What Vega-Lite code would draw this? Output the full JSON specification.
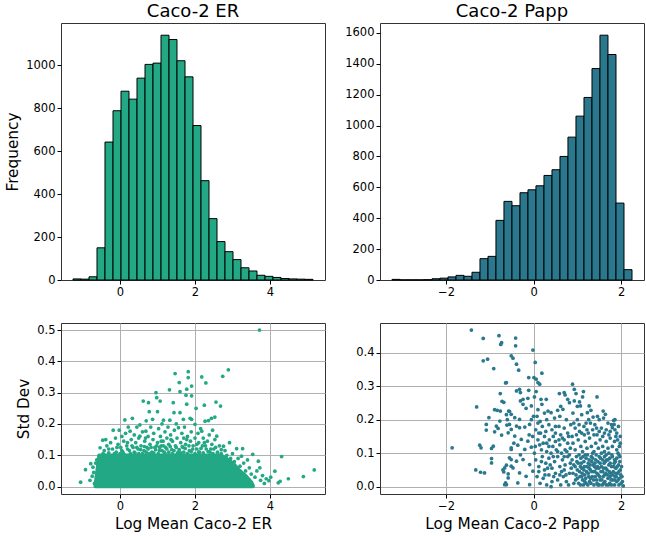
{
"$schema": "https://vega.github.io/schema/vega-lite/v6.json",
"padding": {"left": 5, "top": 2, "right": 0, "bottom": 0},
"config": {
  "font": "DejaVu Sans",
  "view": {"stroke": "#333333", "strokeWidth": 1},
  "axis": {"domain": false, "ticks": true, "tickColor": "#000000", "tickSize": 4, "tickWidth": 1,
           "labelFontSize": 11.5, "labelColor": "#000000", "labelPadding": 2, "labelFlush": false, "labelOverlap": false,
           "titleFontSize": 15.3, "titleFontWeight": "normal", "titleColor": "#000000", "titlePadding": 5,
           "gridColor": "#b0b0b0", "gridWidth": 1, "gridOpacity": 1},
  "title": {"fontSize": 18, "fontWeight": "normal", "color": "#000000", "offset": 2}
},
"datasets": {
  "erHist": [
    {"lo": -1.253, "hi": -1.040, "count": 5},
    {"lo": -1.040, "hi": -0.826, "count": 4},
    {"lo": -0.826, "hi": -0.613, "count": 15},
    {"lo": -0.613, "hi": -0.400, "count": 150},
    {"lo": -0.400, "hi": -0.186, "count": 643},
    {"lo": -0.186, "hi": 0.027, "count": 789},
    {"lo": 0.027, "hi": 0.240, "count": 880},
    {"lo": 0.240, "hi": 0.454, "count": 843},
    {"lo": 0.454, "hi": 0.667, "count": 941},
    {"lo": 0.667, "hi": 0.880, "count": 1005},
    {"lo": 0.880, "hi": 1.094, "count": 1011},
    {"lo": 1.094, "hi": 1.307, "count": 1141},
    {"lo": 1.307, "hi": 1.520, "count": 1121},
    {"lo": 1.520, "hi": 1.734, "count": 1022},
    {"lo": 1.734, "hi": 1.947, "count": 947},
    {"lo": 1.947, "hi": 2.160, "count": 720},
    {"lo": 2.160, "hi": 2.374, "count": 463},
    {"lo": 2.374, "hi": 2.587, "count": 286},
    {"lo": 2.587, "hi": 2.800, "count": 179},
    {"lo": 2.800, "hi": 3.014, "count": 132},
    {"lo": 3.014, "hi": 3.227, "count": 95},
    {"lo": 3.227, "hi": 3.440, "count": 57},
    {"lo": 3.440, "hi": 3.654, "count": 42},
    {"lo": 3.654, "hi": 3.867, "count": 22},
    {"lo": 3.867, "hi": 4.080, "count": 17},
    {"lo": 4.080, "hi": 4.294, "count": 12},
    {"lo": 4.294, "hi": 4.507, "count": 7},
    {"lo": 4.507, "hi": 4.720, "count": 5},
    {"lo": 4.720, "hi": 4.934, "count": 4},
    {"lo": 4.934, "hi": 5.147, "count": 3}
  ],
  "pappHist": [
    {"lo": -3.234, "hi": -3.051, "count": 4},
    {"lo": -3.051, "hi": -2.869, "count": 1},
    {"lo": -2.869, "hi": -2.686, "count": 1},
    {"lo": -2.686, "hi": -2.503, "count": 1},
    {"lo": -2.503, "hi": -2.320, "count": 2},
    {"lo": -2.320, "hi": -2.138, "count": 8},
    {"lo": -2.138, "hi": -1.955, "count": 12},
    {"lo": -1.955, "hi": -1.772, "count": 20},
    {"lo": -1.772, "hi": -1.589, "count": 30},
    {"lo": -1.589, "hi": -1.407, "count": 24},
    {"lo": -1.407, "hi": -1.224, "count": 50},
    {"lo": -1.224, "hi": -1.041, "count": 138},
    {"lo": -1.041, "hi": -0.859, "count": 153},
    {"lo": -0.859, "hi": -0.676, "count": 386},
    {"lo": -0.676, "hi": -0.493, "count": 509},
    {"lo": -0.493, "hi": -0.310, "count": 481},
    {"lo": -0.310, "hi": -0.128, "count": 565},
    {"lo": -0.128, "hi": 0.055, "count": 584},
    {"lo": 0.055, "hi": 0.238, "count": 610},
    {"lo": 0.238, "hi": 0.421, "count": 677},
    {"lo": 0.421, "hi": 0.604, "count": 714},
    {"lo": 0.604, "hi": 0.786, "count": 800},
    {"lo": 0.786, "hi": 0.969, "count": 925},
    {"lo": 0.969, "hi": 1.152, "count": 1061},
    {"lo": 1.152, "hi": 1.335, "count": 1182},
    {"lo": 1.335, "hi": 1.517, "count": 1369},
    {"lo": 1.517, "hi": 1.700, "count": 1585},
    {"lo": 1.700, "hi": 1.883, "count": 1460},
    {"lo": 1.883, "hi": 2.066, "count": 498},
    {"lo": 2.066, "hi": 2.249, "count": 67}
  ],
  "erCore": [
    {"x": -0.66, "y": 0.004}, {"x": -0.6, "y": 0.06}, {"x": -0.56, "y": 0.1}, {"x": 2.7, "y": 0.1},
    {"x": 2.9, "y": 0.085}, {"x": 3.05, "y": 0.07}, {"x": 3.2, "y": 0.05}, {"x": 3.35, "y": 0.035},
    {"x": 3.5, "y": 0.015}, {"x": 3.55, "y": 0.003}
  ],
  "erPts": [
    {"x":-1.05,"y":0.014},{"x":-0.92,"y":0.054},{"x":-0.78,"y":0.073},{"x":-0.74,"y":0.033},{"x":-0.8,"y":0.02},{"x":-0.7,"y":0.045},{"x":-0.68,"y":0.01},{"x":-0.72,"y":0.062},{"x":-0.65,"y":0.075},{"x":-0.62,"y":0.085},
    {"x":-0.53,"y":0.124},{"x":-0.46,"y":0.148},{"x":-0.38,"y":0.15},{"x":-0.42,"y":0.115},{"x":-0.35,"y":0.13},{"x":-0.3,"y":0.108},{"x":-0.25,"y":0.14},{"x":-0.2,"y":0.12},{"x":-0.18,"y":0.18},{"x":-0.12,"y":0.155},{"x":-0.1,"y":0.11},{"x":-0.05,"y":0.135},{"x":-0.02,"y":0.18},{"x":0.02,"y":0.125},{"x":0.05,"y":0.16},{"x":0.08,"y":0.11},{"x":0.1,"y":0.145},{"x":0.13,"y":0.213},{"x":0.15,"y":0.17},{"x":0.18,"y":0.13},{"x":0.22,"y":0.19},{"x":0.25,"y":0.115},{"x":0.27,"y":0.177},{"x":0.3,"y":0.15},{"x":0.33,"y":0.218},{"x":0.35,"y":0.125},{"x":0.38,"y":0.165},{"x":0.4,"y":0.108},{"x":0.42,"y":0.14},{"x":0.45,"y":0.19},{"x":0.48,"y":0.12},{"x":0.5,"y":0.155},{"x":0.53,"y":0.197},{"x":0.53,"y":0.161},{"x":0.56,"y":0.13},{"x":0.6,"y":0.175},{"x":0.62,"y":0.273},{"x":0.64,"y":0.115},{"x":0.66,"y":0.145},{"x":0.69,"y":0.177},{"x":0.7,"y":0.21},{"x":0.72,"y":0.125},{"x":0.75,"y":0.16},{"x":0.76,"y":0.268},{"x":0.78,"y":0.239},{"x":0.8,"y":0.135},{"x":0.82,"y":0.19},{"x":0.85,"y":0.11},{"x":0.87,"y":0.215},{"x":0.88,"y":0.15},{"x":0.9,"y":0.17},{"x":0.93,"y":0.125},{"x":0.96,"y":0.3},{"x":0.98,"y":0.284},{"x":1.0,"y":0.239},{"x":1.0,"y":0.14},{"x":1.03,"y":0.185},{"x":1.05,"y":0.115},{"x":1.07,"y":0.273},{"x":1.08,"y":0.16},{"x":1.1,"y":0.13},{"x":1.12,"y":0.2},{"x":1.15,"y":0.145},{"x":1.16,"y":0.212},{"x":1.18,"y":0.11},{"x":1.2,"y":0.175},{"x":1.22,"y":0.125},{"x":1.25,"y":0.155},{"x":1.28,"y":0.19},{"x":1.3,"y":0.135},{"x":1.32,"y":0.309},{"x":1.33,"y":0.212},{"x":1.35,"y":0.165},{"x":1.38,"y":0.118},{"x":1.4,"y":0.145},{"x":1.42,"y":0.268},{"x":1.44,"y":0.236},{"x":1.45,"y":0.18},{"x":1.47,"y":0.361},{"x":1.48,"y":0.13},{"x":1.5,"y":0.2},{"x":1.52,"y":0.155},{"x":1.55,"y":0.11},{"x":1.56,"y":0.188},{"x":1.58,"y":0.332},{"x":1.6,"y":0.303},{"x":1.6,"y":0.236},{"x":1.62,"y":0.14},{"x":1.65,"y":0.17},{"x":1.68,"y":0.125},{"x":1.69,"y":0.215},{"x":1.7,"y":0.155},{"x":1.72,"y":0.19},{"x":1.75,"y":0.135},{"x":1.76,"y":0.292},{"x":1.78,"y":0.311},{"x":1.78,"y":0.263},{"x":1.8,"y":0.16},{"x":1.82,"y":0.367},{"x":1.82,"y":0.348},{"x":1.85,"y":0.115},{"x":1.87,"y":0.218},{"x":1.88,"y":0.145},{"x":1.9,"y":0.175},{"x":1.91,"y":0.321},{"x":1.91,"y":0.29},{"x":1.91,"y":0.215},{"x":1.95,"y":0.13},{"x":2.0,"y":0.199},{"x":2.0,"y":0.155},{"x":2.03,"y":0.25},{"x":2.05,"y":0.12},{"x":2.08,"y":0.17},{"x":2.1,"y":0.14},{"x":2.12,"y":0.11},{"x":2.15,"y":0.185},{"x":2.18,"y":0.35},{"x":2.18,"y":0.177},{"x":2.2,"y":0.13},{"x":2.22,"y":0.155},{"x":2.25,"y":0.26},{"x":2.27,"y":0.209},{"x":2.29,"y":0.331},{"x":2.3,"y":0.12},{"x":2.33,"y":0.145},{"x":2.36,"y":0.211},{"x":2.38,"y":0.165},{"x":2.4,"y":0.11},{"x":2.44,"y":0.218},{"x":2.45,"y":0.135},{"x":2.47,"y":0.18},{"x":2.5,"y":0.12},{"x":2.53,"y":0.222},{"x":2.53,"y":0.15},{"x":2.56,"y":0.27},{"x":2.58,"y":0.161},{"x":2.6,"y":0.11},{"x":2.65,"y":0.13},{"x":2.68,"y":0.257},{"x":2.7,"y":0.105},{"x":2.74,"y":0.352},{"x":2.76,"y":0.129},{"x":2.8,"y":0.115},{"x":2.85,"y":0.1},{"x":2.89,"y":0.373},{"x":2.92,"y":0.14},{"x":2.95,"y":0.09},{"x":3.0,"y":0.105},{"x":3.05,"y":0.08},{"x":3.11,"y":0.121},{"x":3.15,"y":0.09},{"x":3.2,"y":0.065},{"x":3.24,"y":0.097},{"x":3.27,"y":0.121},{"x":3.3,"y":0.075},{"x":3.35,"y":0.05},{"x":3.4,"y":0.085},{"x":3.45,"y":0.06},{"x":3.5,"y":0.04},{"x":3.54,"y":0.103},{"x":3.6,"y":0.03},{"x":3.65,"y":0.05},{"x":3.69,"y":0.081},{"x":3.72,"y":0.5},{"x":3.73,"y":0.06},{"x":3.75,"y":0.02},{"x":3.8,"y":0.035},{"x":3.85,"y":0.01},{"x":3.9,"y":0.025},{"x":3.97,"y":0.019},{"x":4.02,"y":0.03},{"x":4.13,"y":0.049},{"x":4.22,"y":0.012},{"x":4.27,"y":0.017},{"x":4.31,"y":0.096},{"x":4.49,"y":0.025},{"x":4.89,"y":0.032},{"x":5.18,"y":0.053},{"x":3.3,"y":0.02},{"x":3.4,"y":0.01},{"x":3.5,"y":0.005},{"x":3.1,"y":0.03},{"x":3.2,"y":0.04},{"x":2.9,"y":0.06},{"x":3.0,"y":0.045},
    {"x":-0.45,"y":0.105},{"x":-0.4,"y":0.1},{"x":-0.3,"y":0.12},{"x":-0.15,"y":0.105},{"x":-0.08,"y":0.125},{"x":0.0,"y":0.105},{"x":0.05,"y":0.115},{"x":0.12,"y":0.102},{"x":0.2,"y":0.12},{"x":0.28,"y":0.105},{"x":0.32,"y":0.13},{"x":0.38,"y":0.11},{"x":0.45,"y":0.125},{"x":0.5,"y":0.105},{"x":0.55,"y":0.118},{"x":0.6,"y":0.105},{"x":0.65,"y":0.128},{"x":0.7,"y":0.11},{"x":0.75,"y":0.12},{"x":0.78,"y":0.105},{"x":0.83,"y":0.125},{"x":0.9,"y":0.108},{"x":0.95,"y":0.118},{"x":0.98,"y":0.13},{"x":1.02,"y":0.105},{"x":1.06,"y":0.125},{"x":1.12,"y":0.115},{"x":1.16,"y":0.13},{"x":1.2,"y":0.105},{"x":1.25,"y":0.12},{"x":1.3,"y":0.11},{"x":1.34,"y":0.128},{"x":1.4,"y":0.105},{"x":1.44,"y":0.115},{"x":1.5,"y":0.125},{"x":1.53,"y":0.105},{"x":1.58,"y":0.118},{"x":1.62,"y":0.108},{"x":1.66,"y":0.128},{"x":1.7,"y":0.11},{"x":1.74,"y":0.122},{"x":1.8,"y":0.105},{"x":1.84,"y":0.13},{"x":1.9,"y":0.112},{"x":1.94,"y":0.12},{"x":2.0,"y":0.105},{"x":2.05,"y":0.135},{"x":2.1,"y":0.11},{"x":2.16,"y":0.122},{"x":2.22,"y":0.108},{"x":2.28,"y":0.13},{"x":2.35,"y":0.112},{"x":2.42,"y":0.12},{"x":2.48,"y":0.105},{"x":2.55,"y":0.125},{"x":2.62,"y":0.1},{"x":2.7,"y":0.118},{"x":1.1,"y":0.145},{"x":1.36,"y":0.15},{"x":0.68,"y":0.155},{"x":1.78,"y":0.15},{"x":0.2,"y":0.14},{"x":2.25,"y":0.14}
  ],
  "pappPts": [
    {"x":-0.41,"y":0.444},{"x":-0.41,"y":0.421},{"x":-0.51,"y":0.391},{"x":-0.47,"y":0.384},{"x":-0.39,"y":0.366},{"x":-0.34,"y":0.348},{"x":-0.015,"y":0.408},{"x":0.038,"y":0.371},{"x":0.008,"y":0.326},{"x":0.06,"y":0.321},{"x":0.1,"y":0.311},{"x":0.14,"y":0.306},{"x":-0.11,"y":0.326},{"x":0.19,"y":0.339},{"x":-0.62,"y":0.311},{"x":-0.39,"y":0.286},{"x":-0.32,"y":0.291},{"x":-0.3,"y":0.281},{"x":-0.11,"y":0.288},{"x":0.06,"y":0.284},{"x":0.02,"y":0.268},{"x":-0.13,"y":0.264},{"x":-0.24,"y":0.261},{"x":-0.3,"y":0.256},{"x":0.17,"y":0.261},{"x":0.29,"y":0.261},{"x":0.19,"y":0.246},{"x":0.59,"y":0.278},{"x":0.7,"y":0.281},{"x":0.72,"y":0.274},{"x":0.89,"y":0.306},{"x":0.93,"y":0.291},{"x":0.97,"y":0.278},{"x":1.14,"y":0.284},{"x":1.12,"y":0.268},{"x":0.93,"y":0.256},{"x":1.05,"y":0.253},{"x":1.07,"y":0.241},{"x":1.27,"y":0.241},{"x":1.45,"y":0.268},{"x":0.78,"y":0.261},{"x":0.82,"y":0.251},
    {"x":-1.42,"y":0.468},{"x":-1.15,"y":0.443},{"x":-0.79,"y":0.451},{"x":-0.73,"y":0.43},{"x":-0.75,"y":0.425},{"x":-1.15,"y":0.376},{"x":-1.05,"y":0.381},{"x":-0.91,"y":0.353},{"x":-0.64,"y":0.31},{"x":-0.76,"y":0.278},{"x":-0.72,"y":0.255},{"x":-0.68,"y":0.252},{"x":-1.3,"y":0.238},{"x":-0.89,"y":0.23},{"x":-0.83,"y":0.228},{"x":-0.76,"y":0.226},{"x":-1.02,"y":0.206},{"x":-1.08,"y":0.186},{"x":-1.08,"y":0.169},{"x":-0.85,"y":0.181},{"x":-0.81,"y":0.174},{"x":-0.89,"y":0.164},{"x":-0.73,"y":0.154},{"x":-0.77,"y":0.196},{"x":-0.61,"y":0.184},{"x":-0.51,"y":0.171},{"x":-1.86,"y":0.116},{"x":-1.23,"y":0.124},{"x":-1.2,"y":0.116},{"x":-0.92,"y":0.121},{"x":-0.96,"y":0.114},{"x":-0.51,"y":0.111},{"x":-0.96,"y":0.084},{"x":-0.96,"y":0.071},{"x":-1.32,"y":0.05},{"x":-1.21,"y":0.043},{"x":-1.12,"y":0.041},{"x":-0.7,"y":0.05},{"x":-0.66,"y":0.056},{"x":-0.62,"y":0.064},{"x":-0.68,"y":0.044},{"x":-0.58,"y":0.038},{"x":-0.64,"y":0.011},{"x":-0.66,"y":0.006},{"x":-0.51,"y":0.081},{"x":-0.51,"y":0.061},{"x":-0.62,"y":0.215},{"x":-0.55,"y":0.225},{"x":-0.6,"y":0.2},
    {"x":-0.57,"y":0.226},{"x":-0.51,"y":0.216},{"x":-0.43,"y":0.206},{"x":-0.55,"y":0.186},{"x":-0.39,"y":0.181},{"x":-0.32,"y":0.176},{"x":-0.2,"y":0.178},{"x":-0.09,"y":0.186},{"x":-0.58,"y":0.161},{"x":-0.43,"y":0.151},{"x":-0.28,"y":0.141},{"x":-0.13,"y":0.136},{"x":-0.51,"y":0.116},{"x":-0.36,"y":0.124},{"x":-0.2,"y":0.111},{"x":-0.05,"y":0.118},{"x":-0.55,"y":0.086},{"x":-0.39,"y":0.076},{"x":-0.24,"y":0.081},{"x":-0.09,"y":0.066},{"x":-0.47,"y":0.056},{"x":-0.32,"y":0.041},{"x":-0.17,"y":0.031},{"x":-0.015,"y":0.046},{"x":-0.58,"y":0.026},{"x":-0.36,"y":0.011},{"x":-0.09,"y":0.006},{"x":-0.62,"y":0.006},{"x":-0.24,"y":0.246},{"x":-0.17,"y":0.234},{"x":-0.05,"y":0.241},{"x":-0.32,"y":0.201},{"x":-0.45,"y":0.13},{"x":-0.3,"y":0.095},{"x":-0.1,"y":0.155},{"x":0.0,"y":0.21},{"x":-0.05,"y":0.2},
    {"x":0.1,"y":0.23},{"x":0.25,"y":0.22},{"x":0.33,"y":0.226},{"x":0.4,"y":0.221},{"x":0.55,"y":0.228},{"x":0.67,"y":0.231},{"x":0.48,"y":0.205},{"x":0.6,"y":0.21},{"x":0.75,"y":0.2},{"x":0.3,"y":0.2},{"x":0.15,"y":0.195},
    {"x":0.05,"y":0.17},{"x":0.12,"y":0.16},{"x":0.2,"y":0.18},{"x":0.28,"y":0.165},{"x":0.35,"y":0.185},{"x":0.42,"y":0.17},{"x":0.5,"y":0.16},{"x":0.58,"y":0.18},{"x":0.62,"y":0.155},{"x":0.7,"y":0.175},{"x":0.78,"y":0.16},{"x":0.85,"y":0.185},{"x":0.25,"y":0.15},{"x":0.45,"y":0.15},{"x":0.8,"y":0.15},{"x":0.1,"y":0.19},
    {"x":0.04,"y":0.12},{"x":0.1,"y":0.14},{"x":0.18,"y":0.11},{"x":0.22,"y":0.13},{"x":0.3,"y":0.105},{"x":0.36,"y":0.14},{"x":0.44,"y":0.12},{"x":0.5,"y":0.135},{"x":0.55,"y":0.105},{"x":0.6,"y":0.125},{"x":0.66,"y":0.145},{"x":0.72,"y":0.11},{"x":0.78,"y":0.13},{"x":0.84,"y":0.115},{"x":0.14,"y":0.125},{"x":0.4,"y":0.1},{"x":0.7,"y":0.14},
    {"x":0.05,"y":0.08},{"x":0.12,"y":0.06},{"x":0.2,"y":0.09},{"x":0.28,"y":0.07},{"x":0.35,"y":0.085},{"x":0.42,"y":0.055},{"x":0.48,"y":0.075},{"x":0.55,"y":0.09},{"x":0.6,"y":0.06},{"x":0.66,"y":0.08},{"x":0.72,"y":0.065},{"x":0.78,"y":0.09},{"x":0.84,"y":0.07},{"x":0.25,"y":0.05},{"x":0.38,"y":0.065},{"x":0.7,"y":0.05},
    {"x":0.08,"y":0.03},{"x":0.15,"y":0.01},{"x":0.22,"y":0.025},{"x":0.3,"y":0.005},{"x":0.35,"y":0.035},{"x":0.42,"y":0.015},{"x":0.5,"y":0.04},{"x":0.55,"y":0.02},{"x":0.62,"y":0.005},{"x":0.68,"y":0.03},{"x":0.75,"y":0.015},{"x":0.82,"y":0.04},{"x":0.4,"y":0.0},{"x":0.6,"y":0.035},{"x":0.8,"y":0.005},
    {"x":0.9,"y":0.22},{"x":1.0,"y":0.2},{"x":1.1,"y":0.215},{"x":1.2,"y":0.19},{"x":1.23,"y":0.221},{"x":1.31,"y":0.228},{"x":1.36,"y":0.208},{"x":1.4,"y":0.185},{"x":1.5,"y":0.2},{"x":1.59,"y":0.226},{"x":1.64,"y":0.216},{"x":1.7,"y":0.19},{"x":1.83,"y":0.198},{"x":1.84,"y":0.186},{"x":1.8,"y":0.176},{"x":0.95,"y":0.175},{"x":1.05,"y":0.165},{"x":1.15,"y":0.18},{"x":1.25,"y":0.16},{"x":1.35,"y":0.17},{"x":1.45,"y":0.155},{"x":1.55,"y":0.175},{"x":1.62,"y":0.16},{"x":1.75,"y":0.165},{"x":1.9,"y":0.16},{"x":1.0,"y":0.24},{"x":1.6,"y":0.205},
    {"x":0.9,"y":0.13},{"x":0.95,"y":0.11},{"x":1.02,"y":0.14},{"x":1.08,"y":0.12},{"x":1.12,"y":0.105},{"x":1.18,"y":0.135},{"x":1.22,"y":0.115},{"x":1.28,"y":0.145},{"x":1.32,"y":0.12},{"x":1.38,"y":0.105},{"x":1.42,"y":0.13},{"x":1.48,"y":0.115},{"x":1.52,"y":0.14},{"x":1.58,"y":0.12},{"x":1.62,"y":0.105},{"x":1.66,"y":0.135},{"x":1.7,"y":0.115},{"x":1.75,"y":0.145},{"x":1.8,"y":0.12},{"x":1.85,"y":0.135},{"x":1.9,"y":0.11},{"x":1.95,"y":0.095},{"x":1.98,"y":0.13},{"x":1.88,"y":0.15},{"x":1.72,"y":0.1},
    {"x":0.88,"y":0.08},{"x":0.9,"y":0.04},{"x":0.92,"y":0.01},{"x":0.95,"y":0.06},{"x":0.98,"y":0.09},{"x":1.0,"y":0.025},{"x":1.02,"y":0.07},{"x":1.05,"y":0.045},{"x":1.07,"y":0.005},{"x":1.08,"y":0.085},{"x":1.1,"y":0.055},{"x":1.12,"y":0.02},{"x":1.15,"y":0.075},{"x":1.17,"y":0.035},{"x":1.18,"y":0.095},{"x":1.2,"y":0.01},{"x":1.22,"y":0.06},{"x":1.25,"y":0.04},{"x":1.27,"y":0.08},{"x":1.28,"y":0.015},{"x":1.3,"y":0.05},{"x":1.32,"y":0.09},{"x":1.34,"y":0.03},{"x":1.36,"y":0.065},{"x":1.38,"y":0.005},{"x":1.4,"y":0.045},{"x":1.42,"y":0.08},{"x":1.44,"y":0.02},{"x":1.46,"y":0.06},{"x":1.48,"y":0.035},{"x":1.5,"y":0.09},{"x":1.5,"y":0.005},{"x":1.52,"y":0.07},{"x":1.54,"y":0.045},{"x":1.56,"y":0.02},{"x":1.58,"y":0.08},{"x":1.6,"y":0.055},{"x":1.6,"y":0.01},{"x":1.62,"y":0.035},{"x":1.64,"y":0.075},{"x":1.66,"y":0.095},{"x":1.66,"y":0.005},{"x":1.68,"y":0.05},{"x":1.7,"y":0.025},{"x":1.72,"y":0.065},{"x":1.74,"y":0.085},{"x":1.74,"y":0.01},{"x":1.76,"y":0.04},{"x":1.78,"y":0.06},{"x":1.8,"y":0.02},{"x":1.8,"y":0.09},{"x":1.82,"y":0.045},{"x":1.84,"y":0.07},{"x":1.85,"y":0.005},{"x":1.86,"y":0.03},{"x":1.88,"y":0.055},{"x":1.9,"y":0.085},{"x":1.9,"y":0.015},{"x":1.92,"y":0.04},{"x":1.94,"y":0.065},{"x":1.95,"y":0.005},{"x":1.96,"y":0.025},{"x":1.98,"y":0.05},{"x":2.0,"y":0.01},{"x":2.02,"y":0.03},{"x":2.05,"y":0.002},{"x":1.93,"y":0.1},{"x":1.55,"y":0.1},{"x":1.35,"y":0.1},{"x":1.15,"y":0.05},{"x":1.25,"y":0.07},{"x":1.45,"y":0.01},{"x":1.65,"y":0.04},{"x":1.75,"y":0.03},{"x":1.85,"y":0.08},{"x":1.0,"y":0.05},{"x":1.1,"y":0.03},{"x":1.2,"y":0.085},{"x":1.3,"y":0.025},{"x":1.4,"y":0.07},{"x":1.7,"y":0.08},{"x":1.58,"y":0.045},{"x":1.47,"y":0.075},{"x":1.37,"y":0.045},{"x":1.27,"y":0.055},{"x":1.17,"y":0.015},{"x":1.07,"y":0.06},{"x":0.97,"y":0.035},{"x":1.62,"y":0.09},{"x":1.78,"y":0.005},{"x":1.88,"y":0.04},{"x":1.97,"y":0.075},{"x":1.52,"y":0.02},{"x":1.43,"y":0.055},{"x":1.33,"y":0.075},
    {"x":0.92,"y":0.065},{"x":0.96,"y":0.02},{"x":0.99,"y":0.075},{"x":1.03,"y":0.01},{"x":1.04,"y":0.095},{"x":1.06,"y":0.03},{"x":1.09,"y":0.07},{"x":1.11,"y":0.04},{"x":1.13,"y":0.09},{"x":1.14,"y":0.005},{"x":1.16,"y":0.06},{"x":1.19,"y":0.025},{"x":1.21,"y":0.045},{"x":1.23,"y":0.095},{"x":1.24,"y":0.005},{"x":1.26,"y":0.03},{"x":1.29,"y":0.065},{"x":1.31,"y":0.01},{"x":1.33,"y":0.045},{"x":1.35,"y":0.085},{"x":1.37,"y":0.02},{"x":1.39,"y":0.06},{"x":1.41,"y":0.03},{"x":1.43,"y":0.095},{"x":1.45,"y":0.04},{"x":1.47,"y":0.005},{"x":1.49,"y":0.055},{"x":1.51,"y":0.03},{"x":1.53,"y":0.085},{"x":1.55,"y":0.06},{"x":1.57,"y":0.005},{"x":1.59,"y":0.03},{"x":1.61,"y":0.07},{"x":1.63,"y":0.015},{"x":1.65,"y":0.055},{"x":1.67,"y":0.08},{"x":1.69,"y":0.035},{"x":1.71,"y":0.005},{"x":1.73,"y":0.045},{"x":1.75,"y":0.07},{"x":1.77,"y":0.02},{"x":1.79,"y":0.095},{"x":1.81,"y":0.035},{"x":1.83,"y":0.06},{"x":1.85,"y":0.02},{"x":1.87,"y":0.075},{"x":1.89,"y":0.03},{"x":1.91,"y":0.06},{"x":1.93,"y":0.02},{"x":1.95,"y":0.045},{"x":1.97,"y":0.09},{"x":1.99,"y":0.035},{"x":2.01,"y":0.06},{"x":2.03,"y":0.015},{"x":1.96,"y":0.12},{"x":1.98,"y":0.15},{"x":1.92,"y":0.14},{"x":1.86,"y":0.17},{"x":1.94,"y":0.18},{"x":1.86,"y":0.2},
    {"x":0.35,"y":0.12},{"x":0.45,"y":0.09},{"x":0.52,"y":0.11},{"x":0.58,"y":0.14},{"x":0.64,"y":0.1},{"x":0.7,"y":0.09},{"x":0.76,"y":0.105},{"x":0.82,"y":0.095},{"x":0.88,"y":0.15},{"x":0.92,"y":0.19},{"x":0.98,"y":0.155},{"x":1.04,"y":0.185},{"x":1.1,"y":0.16},{"x":1.16,"y":0.155},{"x":1.22,"y":0.17},{"x":1.3,"y":0.19},{"x":1.38,"y":0.155},{"x":1.44,"y":0.175},{"x":1.5,"y":0.165},{"x":1.58,"y":0.15},{"x":1.66,"y":0.17},{"x":1.72,"y":0.155},{"x":1.78,"y":0.185},{"x":1.26,"y":0.2},{"x":1.46,"y":0.21},{"x":0.62,"y":0.24},{"x":0.5,"y":0.18},{"x":0.3,"y":0.13},{"x":0.18,"y":0.075},{"x":0.26,"y":0.035},{"x":0.46,"y":0.03},{"x":0.64,"y":0.045},{"x":0.86,"y":0.055},{"x":0.74,"y":0.035},{"x":0.32,"y":0.055},{"x":0.12,"y":0.045},{"x":0.02,"y":0.1},{"x":0.16,"y":0.16},{"x":-0.02,"y":0.15},{"x":0.08,"y":0.21}
  ]
},
"columns": 2,
"bounds": "flush",
"spacing": {"row": 43, "column": 55},
"concat": [
  {
    "width": 264, "height": 257,
    "title": {"text": "Caco-2 ER"},
    "data": {"name": "erHist"},
    "mark": {"type": "bar", "fill": "#22a884", "stroke": "#000000", "strokeWidth": 1},
    "encoding": {
      "x": {"field": "lo", "type": "quantitative", "scale": {"domain": [-1.573, 5.467], "nice": false, "zero": false}, "axis": {"values": [0, 2, 4], "title": null, "grid": false}},
      "x2": {"field": "hi"},
      "y": {"field": "count", "type": "quantitative", "scale": {"domain": [0, 1198], "nice": false}, "axis": {"values": [0, 200, 400, 600, 800, 1000], "format": "d", "title": "Frequency", "grid": false}},
      "y2": {"datum": 0}
    }
  },
  {
    "width": 264, "height": 257,
    "title": {"text": "Caco-2 Papp"},
    "data": {"name": "pappHist"},
    "mark": {"type": "bar", "fill": "#2a788e", "stroke": "#000000", "strokeWidth": 1},
    "encoding": {
      "x": {"field": "lo", "type": "quantitative", "scale": {"domain": [-3.508, 2.523], "nice": false, "zero": false}, "axis": {"values": [-2, 0, 2], "title": null, "grid": false}},
      "x2": {"field": "hi"},
      "y": {"field": "count", "type": "quantitative", "scale": {"domain": [0, 1664], "nice": false}, "axis": {"values": [0, 200, 400, 600, 800, 1000, 1200, 1400, 1600], "format": "d", "title": null, "grid": false}},
      "y2": {"datum": 0}
    }
  },
  {
    "width": 264, "height": 171,
    "encoding": {
      "x": {"field": "x", "type": "quantitative", "scale": {"domain": [-1.573, 5.467], "nice": false, "zero": false}, "axis": {"values": [0, 2, 4], "title": "Log Mean Caco-2 ER", "grid": true}},
      "y": {"field": "y", "type": "quantitative", "scale": {"domain": [-0.0237, 0.5224], "nice": false, "zero": false}, "axis": {"values": [0, 0.1, 0.2, 0.3, 0.4, 0.5], "format": ".1f", "title": "Std Dev", "grid": true, "labelOverlap": false}}
    },
    "layer": [
      {
        "data": {"name": "erCore"},
        "mark": {"type": "area", "fill": "#22a884", "stroke": "#22a884", "strokeWidth": 3.5, "strokeJoin": "round"},
        "encoding": {"y2": {"datum": 0}}
      },
      {
        "data": {"name": "erPts"},
        "mark": {"type": "circle", "color": "#22a884", "size": 14, "opacity": 1}
      }
    ]
  },
  {
    "width": 264, "height": 171,
    "data": {"name": "pappPts"},
    "mark": {"type": "circle", "color": "#2a788e", "size": 14, "opacity": 1},
    "encoding": {
      "x": {"field": "x", "type": "quantitative", "scale": {"domain": [-3.508, 2.523], "nice": false, "zero": false}, "axis": {"values": [-2, 0, 2], "title": "Log Mean Caco-2 Papp", "grid": true}},
      "y": {"field": "y", "type": "quantitative", "scale": {"domain": [-0.022, 0.489], "nice": false, "zero": false}, "axis": {"values": [0, 0.1, 0.2, 0.3, 0.4], "format": ".1f", "title": null, "grid": true}}
    }
  }
]
}
